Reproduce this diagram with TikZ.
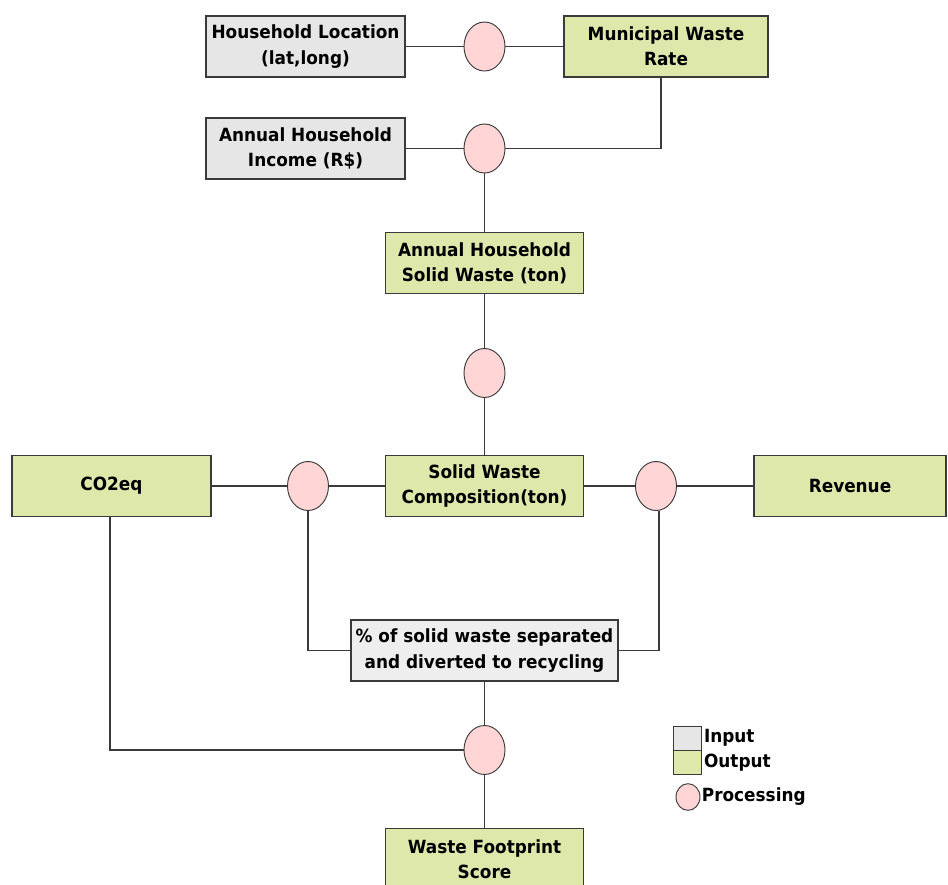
\documentclass[tikz,border=0pt]{standalone}
\usepackage{fontspec}
\setmainfont{DejaVu Sans}[FakeStretch=0.93]
\usepackage{xcolor}
\usetikzlibrary{positioning,shapes.geometric}
\definecolor{inGray}{HTML}{E6E6E6}
\definecolor{inGrayLt}{HTML}{EEEEEE}
\definecolor{outGreen}{HTML}{DDE8AA}
\definecolor{procPink}{HTML}{FFD5D5}
\definecolor{edgeGray}{HTML}{3A3A3A}
\tikzset{
  inbox/.style={draw=edgeGray, fill=inGray, line width=1pt, align=center,
    minimum width=5.97cm, minimum height=1.83cm, inner sep=2pt},
  outbox/.style={inbox, fill=outGreen},
  proc/.style={ellipse, draw=edgeGray, fill=procPink, line width=0.8pt,
    minimum width=1.23cm, minimum height=1.47cm, inner sep=0pt},
  link/.style={draw=edgeGray, line width=1.1pt}
}
\begin{document}
\begin{tikzpicture}[x=0.03cm, y=-0.03cm, font=\bfseries\fontsize{15.5}{21.5}\selectfont]
% frame of the reference picture (pixel coordinates, y downwards)
\clip (0,0) rectangle (948,884);
\useasboundingbox (0,0) rectangle (948,884);
% ---------------- top: location and income ----------------
\node[inbox]  (hloc) at (305.5,46.5) {Household Location\\(lat,long)};
\node[proc]   (p1)   at (484.5,46.5) {};
\node[outbox, minimum width=6.12cm] (mwr) at (666,46.5) {Municipal Waste\\Rate};
\node[inbox]  (inc)  at (305.5,148.5) {Annual Household\\Income (R\$)};
\node[proc]   (p2)   at (484.5,148.5) {};
% ---------------- middle column ----------------
\node[outbox, minimum width=5.94cm] (ahsw) at (484.5,263) {Annual Household\\Solid Waste (ton)};
\node[proc]   (p3)   at (484.5,373) {};
\node[outbox, minimum width=5.94cm] (swc)  at (484.5,486) {Solid Waste\\Composition(ton)};
% ---------------- side outputs ----------------
\node[outbox] (co2)  at (111.5,486) {CO2eq};
\node[proc]   (p4)   at (308,486) {};
\node[proc]   (p5)   at (656,486) {};
\node[outbox, minimum width=5.76cm] (rev) at (850,486) {Revenue};
% ---------------- bottom: recycling and score ----------------
\node[inbox, fill=inGrayLt, minimum width=8.01cm] (pct) at (484.5,650.5)
  {\% of solid waste separated\\and diverted to recycling};
\node[proc]   (p6)   at (484.5,750) {};
\node[outbox, minimum width=5.94cm] (wfs)  at (484.5,859) {Waste Footprint\\Score};
% connectors
\draw[link] (hloc) -- (p1) -- (mwr);
\draw[link] (inc) -- (p2);
\draw[link] (p2) -| (mwr.south -| 661,0);
\draw[link] (p2) -- (ahsw);
\draw[link] (ahsw) -- (p3) -- (swc);
\draw[link] (co2) -- (p4) -- (swc) -- (p5) -- (rev);
\draw[link] (p4) |- (pct);
\draw[link] (p5.south -| 659,0) |- (pct);
\draw[link] (pct) -- (p6) -- (wfs);
\draw[link] (co2.south -| 110,0) |- (p6);
% legend
\node[inbox, minimum width=0.84cm, minimum height=0.72cm, line width=0.8pt] (legin) at (687,738) {};
\node[outbox, minimum width=0.84cm, minimum height=0.72cm, line width=0.8pt, below=0pt of legin] (legout) {};
\node[proc, minimum width=0.72cm, minimum height=0.8cm] (legproc) at (688,797) {};
\node[right=1pt of legin, inner sep=1pt]  (txin)   {Input};
\node[right=1pt of legout, inner sep=1pt] (txout)  {Output};
\node[right=0pt of legproc, inner sep=1pt] (txproc) {Processing};
\end{tikzpicture}
\end{document}
